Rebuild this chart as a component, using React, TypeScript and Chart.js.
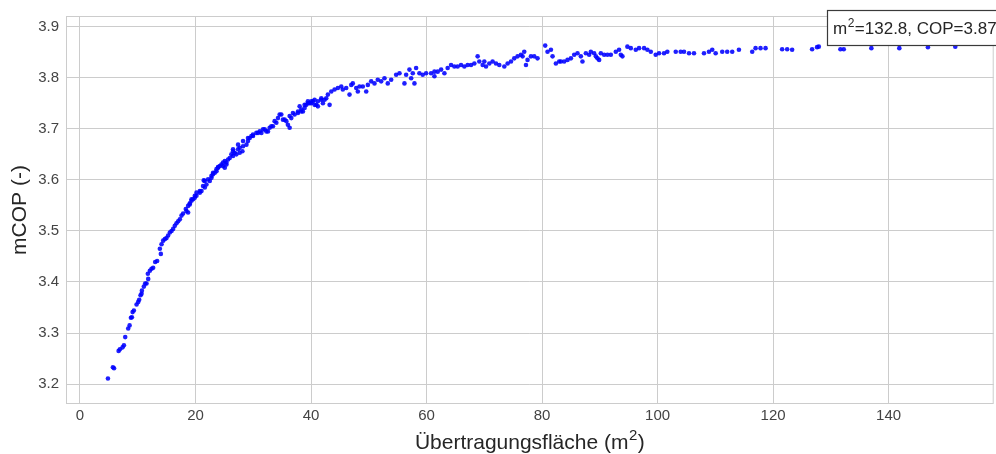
import React, { useEffect, useRef } from "react";
import { Chart, registerables } from "chart.js";

Chart.register(...registerables);

// Heat-transfer area (m²) for each simulated design
const areaValues = [
  4.84, 5.7, 5.9, 6.69, 6.91, 7.38, 7.61, 7.83, 8.35, 8.59, 8.82, 8.99, 9.11, 9.33, 9.8, 10.08, 10.25, 10.49, 10.66, 10.72,
  11.06, 11.29, 11.52, 11.75, 11.81, 12.1, 12.39, 12.67, 13.02, 13.36, 13.83, 14.0, 14.12, 14.4, 14.69, 14.98, 15.26, 15.56, 15.85, 16.13,
  16.42, 16.71, 17.0, 17.29, 17.58, 17.86, 18.32, 18.44, 18.72, 18.72, 19.01, 19.01, 19.31, 19.31, 19.58, 19.88, 19.88, 20.17, 20.17, 20.74,
  20.74, 21.04, 21.31, 21.43, 21.61, 21.61, 21.9, 22.18, 22.47, 22.77, 22.77, 23.04, 23.04, 23.34, 23.63, 23.63, 23.91, 23.91, 24.2, 24.49,
  24.77, 24.77, 25.07, 25.07, 25.36, 25.36, 25.64, 25.93, 26.22, 26.5, 26.5, 26.5, 26.79, 27.08, 27.37, 27.37, 27.66, 27.66, 28.12, 28.23,
  28.23, 28.82, 29.09, 29.09, 29.39, 29.68, 29.96, 29.96, 30.54, 30.82, 31.12, 31.41, 31.69, 31.98, 32.27, 32.55, 32.84, 33.13, 33.41, 33.7,
  34.0, 34.28, 34.57, 34.86, 35.14, 35.44, 35.73, 36.0, 36.3, 36.3, 36.59, 36.87, 37.16, 37.74, 37.74, 38.03, 38.32, 38.32, 38.6, 38.89,
  38.89, 39.19, 39.46, 39.46, 39.76, 40.05, 40.05, 40.33, 40.62, 40.62, 40.92, 41.19, 41.19, 41.78, 41.78, 42.06, 42.35, 42.64, 42.92, 43.22,
  43.51, 44.08, 44.65, 45.24, 45.51, 46.1, 46.67, 46.97, 47.24, 47.83, 48.11, 48.4, 48.97, 49.56, 49.84, 50.42, 50.99, 51.56, 52.15, 52.72,
  53.29, 53.88, 54.74, 55.32, 56.18, 56.47, 57.04, 57.34, 57.62, 57.91, 58.2, 58.77, 59.34, 59.93, 60.79, 61.37, 61.37, 61.94, 62.53, 63.1,
  63.66, 64.25, 64.82, 65.39, 65.98, 66.55, 67.12, 67.71, 68.28, 68.85, 69.14, 69.72, 70.01, 70.3, 70.87, 71.44, 72.03, 72.6, 73.47, 74.04,
  74.63, 75.19, 75.77, 76.35, 76.63, 76.92, 77.22, 77.49, 78.08, 78.65, 79.22, 80.55, 80.95, 81.54, 81.82, 82.4, 82.97, 83.27, 83.84, 84.41,
  85.0, 85.57, 86.14, 86.72, 87.0, 87.59, 88.16, 88.45, 89.02, 89.32, 89.6, 89.89, 90.18, 90.75, 91.32, 91.91, 92.77, 93.34, 93.64, 93.92,
  94.78, 95.37, 96.23, 96.8, 97.67, 98.24, 98.83, 99.68, 100.26, 101.12, 101.69, 103.15, 104.01, 104.58, 105.45, 106.31, 108.04, 108.9, 109.47, 110.06,
  111.2, 112.06, 112.93, 114.09, 116.39, 116.97, 117.83, 118.7, 121.57, 122.44, 123.3, 126.76, 127.62, 127.92, 131.66, 132.24, 137.02, 141.86, 146.81, 151.55,
];

// Mean coefficient of performance for the same designs
const copValues = [
  3.211, 3.233, 3.231, 3.265, 3.268, 3.272, 3.276, 3.292, 3.309, 3.315, 3.33, 3.331, 3.341, 3.344, 3.356, 3.361, 3.365, 3.374, 3.377, 3.383,
  3.391, 3.397, 3.397, 3.416, 3.406, 3.422, 3.426, 3.428, 3.439, 3.441, 3.465, 3.455, 3.474, 3.481, 3.484, 3.486, 3.491, 3.497, 3.5, 3.504,
  3.51, 3.515, 3.519, 3.523, 3.53, 3.534, 3.543, 3.539, 3.549, 3.536, 3.554, 3.552, 3.559, 3.562, 3.562, 3.565, 3.569, 3.569, 3.575, 3.575,
  3.578, 3.578, 3.588, 3.599, 3.585, 3.598, 3.591, 3.601, 3.598, 3.604, 3.608, 3.611, 3.614, 3.614, 3.617, 3.621, 3.624, 3.625, 3.627, 3.63,
  3.627, 3.634, 3.624, 3.637, 3.634, 3.63, 3.64, 3.643, 3.65, 3.647, 3.656, 3.66, 3.653, 3.65, 3.66, 3.669, 3.653, 3.663, 3.656, 3.666,
  3.676, 3.669, 3.676, 3.682, 3.682, 3.686, 3.689, 3.686, 3.692, 3.692, 3.695, 3.692, 3.699, 3.699, 3.695, 3.695, 3.702, 3.705, 3.705, 3.715,
  3.712, 3.721, 3.728, 3.728, 3.718, 3.718, 3.715, 3.708, 3.702, 3.725, 3.721, 3.731, 3.728, 3.731, 3.734, 3.744, 3.734, 3.738, 3.734, 3.747,
  3.741, 3.747, 3.754, 3.75, 3.75, 3.75, 3.754, 3.754, 3.757, 3.747, 3.747, 3.744, 3.754, 3.757, 3.76, 3.75, 3.757, 3.76, 3.767, 3.747,
  3.773, 3.777, 3.78, 3.783, 3.777, 3.78, 3.767, 3.786, 3.789, 3.78, 3.773, 3.783, 3.783, 3.773, 3.786, 3.793, 3.789, 3.796, 3.793, 3.799,
  3.789, 3.796, 3.806, 3.809, 3.789, 3.806, 3.816, 3.799, 3.809, 3.789, 3.819, 3.809, 3.806, 3.809, 3.809, 3.812, 3.803, 3.812, 3.816, 3.809,
  3.819, 3.825, 3.822, 3.822, 3.825, 3.822, 3.825, 3.825, 3.828, 3.842, 3.832, 3.825, 3.832, 3.822, 3.828, 3.832, 3.828, 3.825, 3.822, 3.828,
  3.832, 3.838, 3.842, 3.845, 3.842, 3.851, 3.825, 3.835, 3.842, 3.842, 3.838, 3.863, 3.851, 3.855, 3.842, 3.828, 3.832, 3.832, 3.832, 3.835,
  3.838, 3.845, 3.848, 3.842, 3.832, 3.848, 3.845, 3.851, 3.848, 3.842, 3.838, 3.835, 3.848, 3.845, 3.845, 3.845, 3.851, 3.855, 3.845, 3.842,
  3.861, 3.858, 3.855, 3.858, 3.858, 3.855, 3.851, 3.845, 3.848, 3.848, 3.851, 3.851, 3.851, 3.851, 3.848, 3.848, 3.848, 3.851, 3.855, 3.848,
  3.851, 3.851, 3.851, 3.855, 3.851, 3.858, 3.858, 3.858, 3.856, 3.856, 3.855, 3.856, 3.86, 3.861, 3.856, 3.856, 3.858, 3.858, 3.86, 3.861,
];

const xTicks = [0, 20, 40, 60, 80, 100, 120, 140];
const yTicks = [3.2, 3.3, 3.4, 3.5, 3.6, 3.7, 3.8, 3.9];

// Text pieces: [base, superscript, rest]
const xTitleParts = ["Übertragungsfläche (m", "2", ")"];
const yTitle = "mCOP (-)";
const noteParts = ["m", "2", "=132.8, COP=3.87"];

const FONT = "'Liberation Sans', Arial, sans-serif";
const GRID = "#cccccc";
const TEXT = "#444444";
const DARK = "#262626";

// Draws "base^sup rest" starting at x (baseline y); returns total width
function drawSupText(ctx: any, parts: string[], x: number, y: number, size: number, measureOnly = false) {
  const [base, sup, rest] = parts;
  const supSize = Math.round(size * 0.7);
  ctx.font = `${size}px ${FONT}`;
  const w1 = ctx.measureText(base).width;
  const w3 = ctx.measureText(rest).width;
  ctx.font = `${supSize}px ${FONT}`;
  const w2 = ctx.measureText(sup).width;
  if (!measureOnly) {
    ctx.textBaseline = "alphabetic";
    ctx.textAlign = "left";
    ctx.font = `${size}px ${FONT}`;
    ctx.fillText(base, x, y);
    ctx.font = `${supSize}px ${FONT}`;
    ctx.fillText(sup, x + w1 + 0.5, y - size * 0.42);
    ctx.font = `${size}px ${FONT}`;
    ctx.fillText(rest, x + w1 + w2 + 1, y);
  }
  return w1 + w2 + w3 + 1;
}

// Frame around the plotting area (all four sides)
const framePlugin = {
  id: "frame",
  beforeDatasetsDraw(chart: any) {
    const { ctx, chartArea } = chart;
    ctx.save();
    ctx.strokeStyle = GRID;
    ctx.lineWidth = 1;
    ctx.strokeRect(chartArea.left + 0.5, chartArea.top + 0.5, chartArea.right - chartArea.left - 1, chartArea.bottom - chartArea.top - 1);
    ctx.restore();
  },
};

// X-axis title with a raised exponent
const xTitlePlugin = {
  id: "xTitle",
  afterDraw(chart: any) {
    const { ctx, chartArea } = chart;
    ctx.save();
    ctx.fillStyle = DARK;
    const size = 21;
    const w = drawSupText(ctx, xTitleParts, 0, 0, size, true);
    const cx = (chartArea.left + chartArea.right) / 2;
    drawSupText(ctx, xTitleParts, cx - w / 2, 449, size);
    ctx.restore();
  },
};

// Boxed note in the upper right corner
const notePlugin = {
  id: "note",
  afterDraw(chart: any) {
    const { ctx } = chart;
    ctx.save();
    const left = 827;
    const top = 10;
    const h = 35;
    ctx.fillStyle = "#ffffff";
    ctx.fillRect(left, top, 200, h);
    ctx.strokeStyle = "#3a3a3a";
    ctx.lineWidth = 1.2;
    ctx.strokeRect(left + 0.5, top + 0.5, 200, h);
    ctx.fillStyle = DARK;
    drawSupText(ctx, noteParts, left + 6, top + 24, 17);
    ctx.restore();
  },
};

export default function App() {
  const canvasRef = useRef<HTMLCanvasElement | null>(null);

  useEffect(() => {
    const canvas = canvasRef.current;
    if (!canvas) return;
    const points = areaValues.map((x, i) => ({ x, y: copValues[i] }));
    const chart = new Chart(canvas, {
      type: "scatter",
      data: {
        datasets: [
          {
            data: points,
            backgroundColor: "rgba(0,0,255,0.88)",
            borderWidth: 0,
            pointRadius: 2.3,
            pointHoverRadius: 2.3,
          },
        ],
      },
      options: {
        responsive: false,
        animation: false,
        devicePixelRatio: 1,
        layout: { padding: { left: 0, right: 1, top: 14, bottom: 0 } },
        plugins: { legend: { display: false }, tooltip: { enabled: false } },
        scales: {
          x: {
            type: "linear",
            min: -2.42,
            max: 158.2,
            afterBuildTicks: (scale: any) => {
              scale.ticks = xTicks.map((v) => ({ value: v }));
            },
            afterFit: (scale: any) => {
              scale.height = 50;
            },
            grid: { color: GRID, lineWidth: 1, drawTicks: false },
            border: { display: false },
            ticks: {
              padding: 3,
              color: TEXT,
              font: { family: FONT, size: 15 },
              callback: (v: any) => String(v),
            },
            title: { display: false },
          },
          y: {
            type: "linear",
            min: 3.161,
            max: 3.921,
            afterBuildTicks: (scale: any) => {
              scale.ticks = yTicks.map((v) => ({ value: v }));
            },
            afterFit: (scale: any) => {
              scale.width = 66;
            },
            grid: { color: GRID, lineWidth: 1, drawTicks: false },
            border: { display: false },
            ticks: {
              padding: 7,
              color: TEXT,
              font: { family: FONT, size: 15 },
              callback: (v: any) => Number(v).toFixed(1),
            },
            title: {
              display: true,
              text: yTitle,
              color: DARK,
              font: { family: FONT, size: 21 },
              padding: { top: 8, bottom: 0 },
            },
          },
        },
      },
      plugins: [framePlugin, xTitlePlugin, notePlugin],
    });
    return () => chart.destroy();
  }, []);

  return (
    <div style={{ position: "fixed", left: 0, top: 0, width: 996, height: 454, background: "#ffffff" }}>
      <canvas ref={canvasRef} width={996} height={454} style={{ display: "block" }} />
    </div>
  );
}
